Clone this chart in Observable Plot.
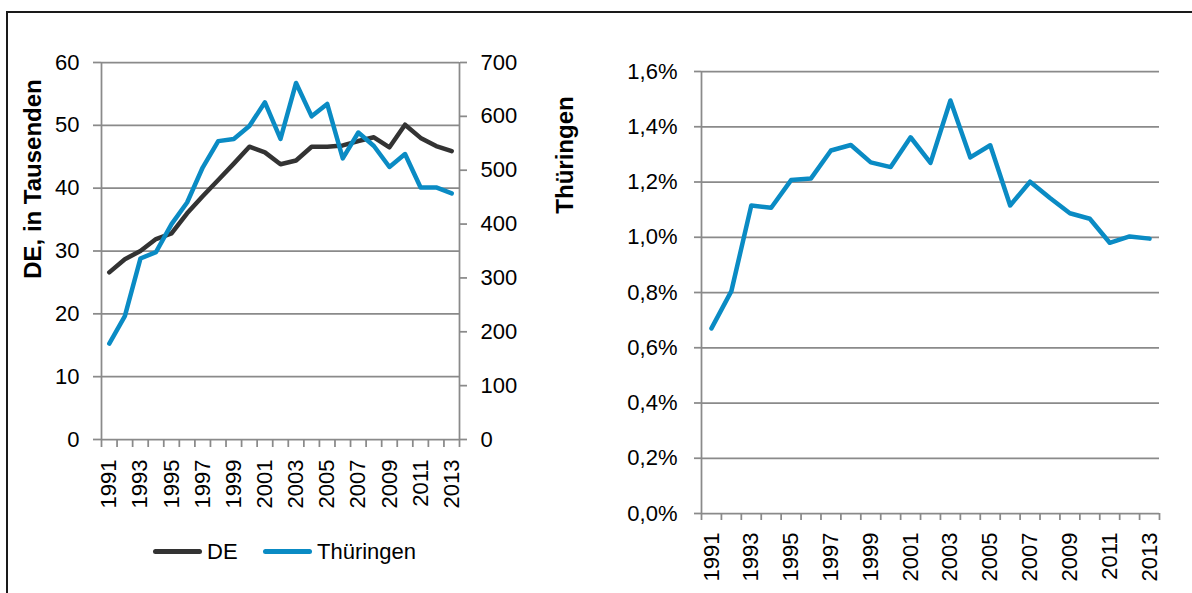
<!DOCTYPE html>
<html>
<head>
<meta charset="utf-8">
<script src="https://cdn.jsdelivr.net/npm/d3@7"></script>
<script src="https://cdn.jsdelivr.net/npm/@observablehq/plot@0.6"></script>
<style>
  body { margin: 0; background: #fff; font-family: "Liberation Sans", Arial, sans-serif; }
  #wrap { position: relative; width: 1192px; height: 593px; overflow: hidden; background: #fff; }
  #frame { position: absolute; left: 6px; top: 11px; width: 1300px; height: 700px; border: 2px solid #1a1a1a; }
  .plot { position: absolute; top: 0; }
  .ytitle { position: absolute; width: 300px; height: 30px; line-height: 30px; text-align: center;
            font-weight: bold; font-size: 24px; color: #000; transform: rotate(-90deg); white-space: nowrap; }
  .sw { position: absolute; height: 5px; border-radius: 3px; }
  .lt { position: absolute; height: 26px; line-height: 26px; font-size: 22px; color: #000; white-space: nowrap; }
</style>
</head>
<body>
<div id="wrap">
  <div id="frame"></div>
</div>
<script>
// ---- data ----
const years = [1991,1992,1993,1994,1995,1996,1997,1998,1999,2000,2001,2002,2003,2004,2005,2006,2007,2008,2009,2010,2011,2012,2013];
const deValues = [26.6,28.7,30.0,31.9,32.8,36.0,38.7,41.3,43.9,46.6,45.7,43.8,44.4,46.6,46.6,46.8,47.5,48.1,46.5,50.1,48.0,46.7,45.9];
const thValues = [178,229,336,348,400,440,505,554,558,582,626,558,662,600,623,522,570,545,506,530,468,468,457];
const shareValues = [0.670,0.805,1.115,1.107,1.207,1.213,1.314,1.334,1.271,1.254,1.362,1.269,1.495,1.289,1.333,1.115,1.201,1.142,1.087,1.067,0.980,1.003,0.995];
const labelYears = [1991,1993,1995,1997,1999,2001,2003,2005,2007,2009,2011,2013];
const deTicks = [0,10,20,30,40,50,60];
const thTicks = [0,100,200,300,400,500,600,700];
const shareTicks = [0,0.2,0.4,0.6,0.8,1.0,1.2,1.4,1.6];
const seriesNames = ["DE", "Thüringen"];
const seriesColors = ["#333333", "#0a8bc4"];
const titleLeft = "DE, in Tausenden";
const titleRight = "Thüringen";

// ---- derived tables ----
const de = years.map((y, i) => ({year: y, value: deValues[i]}));
const th = years.map((y, i) => ({year: y, value: thValues[i]}));
const share = years.map((y, i) => ({year: y, value: shareValues[i]}));
const bounds = years.map(y => y - 0.5).concat([years[years.length - 1] + 0.5]);
const xDomain = [bounds[0], bounds[bounds.length - 1]];

const GRID = "#8a8a8a";
const LW = 4.5;
const font = "'Liberation Sans', Arial, sans-serif";
const baseStyle = {background: "transparent", fontFamily: font, fontSize: "22px", color: "#000", overflow: "visible"};

const wrap = document.getElementById("wrap");
function place(svg, left) {
  svg.classList.add("plot");
  svg.style.left = left + "px";
  wrap.appendChild(svg);
}

// ---- left panel: DE (left axis) ----
const L = {width: 600, height: 530, marginLeft: 101, marginRight: 141, marginTop: 62, marginBottom: 91};
const p1 = Plot.plot({
  ...L,
  style: baseStyle,
  x: {domain: xDomain},
  y: {domain: [0, 60]},
  marks: [
    Plot.gridY(deTicks, {stroke: GRID, strokeOpacity: 1, strokeWidth: 1.75}),
    Plot.ruleX([xDomain[0], xDomain[1]], {stroke: GRID, strokeWidth: 1.75}),
    Plot.axisY(deTicks, {anchor: "left", tickSize: 8, tickPadding: 14, stroke: GRID, strokeWidth: 1.75, fill: "#000", label: null}),
    Plot.axisX(bounds, {anchor: "bottom", tickSize: 8, tickFormat: () => "", stroke: GRID, strokeWidth: 1.75, label: null}),
    Plot.axisX(labelYears, {anchor: "bottom", tickSize: 0, tickPadding: 20, tickRotate: -90, tickFormat: "d", fill: "#000", label: null}),
    Plot.line(de, {x: "year", y: "value", stroke: seriesColors[0], strokeWidth: LW, strokeLinejoin: "round", strokeLinecap: "round"})
  ]
});
place(p1, 0);

// ---- left panel overlay: Thüringen (right axis) ----
const p2 = Plot.plot({
  ...L,
  style: baseStyle,
  x: {domain: xDomain, axis: null},
  y: {domain: [0, 700]},
  marks: [
    Plot.axisY(thTicks, {anchor: "right", tickSize: 7, tickPadding: 14, stroke: GRID, strokeWidth: 1.75, fill: "#000", label: null}),
    Plot.line(th, {x: "year", y: "value", stroke: seriesColors[1], strokeWidth: LW, strokeLinejoin: "round", strokeLinecap: "round"})
  ]
});
place(p2, 0);

// ---- right panel: share ----
const pctFmt = d => d.toFixed(1).replace(".", ",") + "%";
const p3 = Plot.plot({
  width: 592, height: 593, marginLeft: 101, marginRight: 33, marginTop: 71, marginBottom: 80,
  style: baseStyle,
  x: {domain: xDomain},
  y: {domain: [0, 1.6]},
  marks: [
    Plot.gridY(shareTicks, {stroke: GRID, strokeOpacity: 1, strokeWidth: 1.75}),
    Plot.ruleX([xDomain[0]], {stroke: GRID, strokeWidth: 1.75}),
    Plot.axisY(shareTicks, {anchor: "left", tickSize: 7, tickPadding: 17, stroke: GRID, strokeWidth: 1.75, fill: "#000", tickFormat: pctFmt, label: null}),
    Plot.axisX(bounds, {anchor: "bottom", tickSize: 7, tickFormat: () => "", stroke: GRID, strokeWidth: 1.75, label: null}),
    Plot.axisX(labelYears, {anchor: "bottom", tickSize: 0, tickPadding: 19, tickRotate: -90, tickFormat: "d", fill: "#000", label: null}),
    Plot.line(share, {x: "year", y: "value", stroke: seriesColors[1], strokeWidth: LW, strokeLinejoin: "round", strokeLinecap: "round"})
  ]
});
place(p3, 600);

// ---- axis titles ----
function ytitle(text, cx, cy) {
  const d = document.createElement("div");
  d.className = "ytitle";
  d.textContent = text;
  d.style.left = (cx - 150) + "px";
  d.style.top = (cy - 15) + "px";
  wrap.appendChild(d);
}
ytitle(titleLeft, 33, 179);
ytitle(titleRight, 565, 155);

// ---- legend ----
const legendPos = [{sw: 153, tx: 207}, {sw: 263, tx: 317}];
seriesNames.forEach((name, i) => {
  const s = document.createElement("div");
  s.className = "sw";
  s.style.left = legendPos[i].sw + "px";
  s.style.top = "549px";
  s.style.width = "49px";
  s.style.background = seriesColors[i];
  wrap.appendChild(s);
  const t = document.createElement("div");
  t.className = "lt";
  t.style.left = legendPos[i].tx + "px";
  t.style.top = "539px";
  t.textContent = name;
  wrap.appendChild(t);
});
</script>
</body>
</html>
